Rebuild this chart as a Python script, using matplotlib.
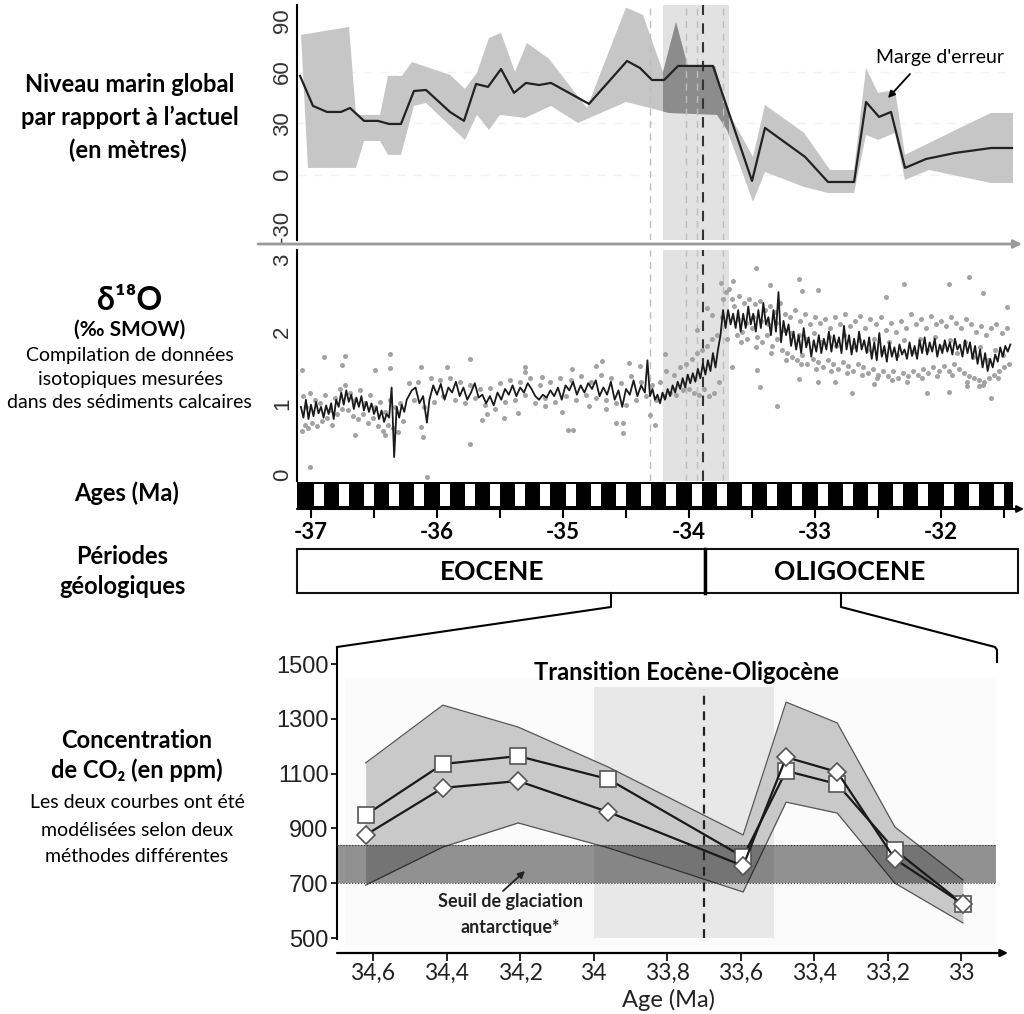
import numpy as np
import matplotlib
matplotlib.use('Agg')
import matplotlib.pyplot as plt
from matplotlib.patches import Rectangle
from matplotlib import font_manager

# ---------------- data ----------------
# sea level (m) vs age (Ma)
sl_age = [-37.087, -36.984, -36.873, -36.762, -36.690, -36.579, -36.468, -36.381, -36.286, -36.183,
          -36.087, -35.897, -35.786, -35.690, -35.595, -35.492, -35.389, -35.294, -35.190, -35.095,
          -34.794, -34.492, -34.389, -34.294, -34.198, -34.087, -33.810, -33.500, -33.397, -33.079,
          -32.897, -32.690, -32.595, -32.492, -32.397, -32.286, -32.119, -31.889, -31.603, -31.437]
sl_val = [57.7, 40.2, 36.7, 36.7, 39.0, 31.5, 31.5, 29.7, 29.7, 48.9,
          49.5, 36.7, 31.5, 53.0, 51.3, 61.7, 47.8, 53.6, 52.4, 53.6,
          41.4, 66.4, 62.3, 55.3, 55.3, 63.5, 63.5, -3.5, 27.4, 10.5,
          -4.1, -4.1, 42.5, 33.8, 36.7, 4.1, 9.3, 12.8, 15.7, 15.7]

sl_up_age = [-37.079, -36.698, -36.643, -36.452, -36.389, -36.278, -36.198, -35.897, -35.778, -35.683,
             -35.587, -35.492, -35.381, -35.286, -35.111, -34.810, -34.500, -34.365, -34.206, -34.103,
             -34.008, -33.794, -33.698, -33.492, -33.397, -33.087, -32.881, -32.690, -32.595, -32.500,
             -32.365, -32.286, -31.833, -31.603, -31.429]
sl_up_val = [81.6, 86.2, 35.0, 35.0, 57.7, 57.7, 65.8, 58.3, 50.1, 59.4,
             79.8, 82.7, 60.0, 76.9, 67.6, 39.0, 97.5, 93.2, 60.0, 89.1,
             62.9, 63.5, 37.9, 10.5, 40.8, 24.5, 2.9, 2.9, 62.3, 47.8,
             49.5, 11.7, 28.0, 36.1, 36.1]
sl_lo_age = [-37.024, -36.643, -36.579, -36.452, -36.389, -36.286, -36.183, -36.087, -35.778, -35.683,
             -35.587, -35.500, -35.302, -35.095, -34.881, -34.500, -34.310, -34.159, -33.778, -33.698,
             -33.492, -33.397, -33.087, -32.897, -32.690, -32.595, -32.500, -32.365, -32.286, -32.095,
             -31.603, -31.429]
sl_lo_val = [4.1, 4.1, 19.8, 19.8, 11.7, 11.7, 40.2, 41.9, 20.4, 35.0,
             26.2, 35.0, 33.2, 40.2, 30.3, 42.5, 39.0, 36.1, 35.0, 26.2,
             -15.7, 1.7, -7.0, -10.5, -10.5, 23.3, 20.4, 24.5, -2.9, 2.9,
             -4.7, -4.7]
sl_ticks = [-30, 0, 30, 60, 90]

# delta 18O smoothed record
d18o_age = [-37.08, -37.06, -37.04, -37.02, -37.00, -36.98, -36.96, -36.94, -36.92, -36.90,
            -36.88, -36.86, -36.84, -36.82, -36.80, -36.78, -36.76, -36.74, -36.72, -36.70,
            -36.68, -36.66, -36.64, -36.62, -36.60, -36.58, -36.56, -36.54, -36.52, -36.50,
            -36.48, -36.46, -36.44, -36.42, -36.40, -36.38, -36.36, -36.34, -36.32, -36.30,
            -36.28, -36.26, -36.24, -36.20, -36.17, -36.14, -36.11, -36.08, -36.06, -36.03,
            -36.00, -35.97, -35.94, -35.91, -35.88, -35.85, -35.82, -35.79, -35.76, -35.73,
            -35.70, -35.67, -35.64, -35.61, -35.58, -35.55, -35.52, -35.49, -35.46, -35.43,
            -35.40, -35.37, -35.34, -35.31, -35.28, -35.25, -35.22, -35.19, -35.16, -35.13,
            -35.10, -35.07, -35.04, -35.01, -34.98, -34.95, -34.92, -34.89, -34.86, -34.83,
            -34.80, -34.77, -34.74, -34.71, -34.68, -34.65, -34.62, -34.59, -34.56, -34.53,
            -34.50, -34.47, -34.44, -34.41, -34.38, -34.35, -34.33, -34.31, -34.29, -34.27,
            -34.25, -34.23, -34.21, -34.19, -34.17, -34.15, -34.13, -34.11, -34.09, -34.07,
            -34.05, -34.03, -34.01, -33.99, -33.97, -33.95, -33.93, -33.91, -33.89, -33.87,
            -33.85, -33.83, -33.81, -33.79, -33.77, -33.75, -33.73, -33.71, -33.69, -33.67,
            -33.65, -33.63, -33.61, -33.59, -33.57, -33.55, -33.53, -33.51, -33.49, -33.47,
            -33.45, -33.43, -33.41, -33.39, -33.37, -33.35, -33.33, -33.31, -33.29, -33.27,
            -33.25, -33.23, -33.21, -33.19, -33.17, -33.15, -33.13, -33.11, -33.09, -33.07,
            -33.05, -33.03, -33.01, -32.99, -32.97, -32.95, -32.93, -32.91, -32.89, -32.87,
            -32.85, -32.83, -32.81, -32.79, -32.77, -32.75, -32.73, -32.71, -32.69, -32.67,
            -32.65, -32.63, -32.61, -32.59, -32.57, -32.55, -32.53, -32.51, -32.49, -32.47,
            -32.45, -32.43, -32.41, -32.39, -32.37, -32.35, -32.33, -32.31, -32.29, -32.27,
            -32.25, -32.23, -32.21, -32.19, -32.17, -32.15, -32.13, -32.11, -32.09, -32.07,
            -32.05, -32.03, -32.01, -31.99, -31.97, -31.95, -31.93, -31.91, -31.89, -31.87,
            -31.85, -31.83, -31.81, -31.79, -31.77, -31.75, -31.73, -31.71, -31.69, -31.67,
            -31.65, -31.63, -31.61, -31.59, -31.57, -31.55, -31.53, -31.51, -31.49, -31.47,
            -31.45]
d18o_val = [0.95, 0.80, 1.05, 0.78, 0.98, 0.82, 1.02, 0.86, 0.95, 0.80,
            0.97, 0.85, 1.00, 0.78, 1.05, 0.95, 1.15, 0.98, 1.18, 1.02,
            1.12, 0.92, 1.08, 0.95, 1.10, 0.90, 1.02, 0.88, 1.00, 0.85,
            0.95, 0.78, 0.90, 0.74, 0.85, 0.80, 1.22, 0.25, 0.95, 0.80,
            0.98, 0.88, 1.05, 1.18, 1.22, 1.00, 1.10, 0.73, 1.05, 1.25,
            1.12, 1.27, 1.05, 1.22, 1.15, 1.30, 1.10, 1.22, 1.05, 1.15,
            1.28, 1.08, 1.12, 1.00, 1.10, 0.97, 1.15, 1.05, 1.20, 1.12,
            1.25, 1.10, 1.22, 1.15, 1.28, 1.20, 1.10, 1.05, 1.12, 1.08,
            1.18, 1.10, 1.22, 1.05, 1.25, 1.18, 1.30, 1.12, 1.25, 1.15,
            1.28, 1.20, 1.32, 1.10, 1.22, 1.12, 1.30, 1.05, 1.18, 0.95,
            1.20, 1.12, 1.32, 1.10, 1.25, 1.15, 1.60, 1.10, 1.20, 1.05,
            1.12, 1.00, 1.15, 1.05, 1.20, 1.10, 1.25, 1.15, 1.30, 1.20,
            1.35, 1.22, 1.40, 1.28, 1.42, 1.30, 1.48, 1.35, 1.55, 1.40,
            1.60, 1.45, 1.70, 1.50, 1.75, 1.95, 2.30, 2.05, 2.30, 2.10,
            2.25, 2.05, 2.30, 2.00, 2.25, 2.05, 2.35, 2.10, 2.25, 2.00,
            2.30, 2.05, 2.40, 2.10, 2.20, 1.95, 2.30, 2.00, 2.55, 1.85,
            2.15, 1.95, 2.10, 1.80, 2.00, 1.75, 1.95, 1.70, 2.05, 1.78,
            1.92, 1.65, 1.88, 1.72, 1.95, 1.70, 1.90, 1.75, 2.00, 1.72,
            1.95, 1.78, 1.92, 1.70, 2.08, 1.75, 1.95, 1.68, 1.90, 1.72,
            2.00, 1.75, 1.88, 1.70, 1.92, 1.62, 1.85, 1.60, 1.98, 1.65,
            1.80, 1.58, 1.85, 1.65, 1.78, 1.60, 1.82, 1.68, 1.75, 1.62,
            1.85, 1.66, 1.80, 1.62, 1.88, 1.70, 1.92, 1.68, 1.85, 1.72,
            1.90, 1.65, 1.82, 1.70, 1.88, 1.72, 1.85, 1.68, 1.90, 1.75,
            1.82, 1.65, 1.88, 1.70, 1.85, 1.62, 1.80, 1.55, 1.75, 1.50,
            1.70, 1.45, 1.62, 1.50, 1.68, 1.58, 1.78, 1.65, 1.80, 1.72,
            1.82]

# delta 18O individual measurements
sc_age = [-37.07, -37.06, -37.05, -37.04, -37.02, -37.01, -36.99, -36.97, -36.95, -36.93,
          -36.91, -36.89, -36.87, -36.85, -36.83, -36.81, -36.79, -36.77, -36.75, -36.73,
          -36.71, -36.69, -36.67, -36.65, -36.63, -36.61, -36.59, -36.57, -36.55, -36.53,
          -36.51, -36.49, -36.47, -36.45, -36.43, -36.41, -36.39, -36.37, -36.35, -36.33,
          -36.31, -36.29, -36.27,
          -36.22, -36.18, -36.15, -36.10, -36.05, -36.02, -35.98, -35.95, -35.90, -35.86,
          -35.82, -35.78, -35.74, -35.70, -35.66, -35.62, -35.58, -35.54, -35.50, -35.46,
          -35.42, -35.38, -35.34, -35.30, -35.26, -35.22, -35.18, -35.14, -35.10, -35.06,
          -35.02, -34.98, -34.94, -34.90, -34.86, -34.82, -34.78, -34.74, -34.70, -34.66,
          -34.62, -34.58, -34.54, -34.50, -34.46, -34.42, -34.38, -34.34,
          -34.29, -34.26, -34.23, -34.20, -34.18, -34.15, -34.12, -34.10, -34.07, -34.05,
          -34.02, -34.00, -33.98, -33.96, -33.94, -33.92, -33.90, -33.88, -33.86, -33.84,
          -33.82, -33.80, -33.78, -33.76, -33.74, -33.73, -33.71, -33.70, -33.68, -33.66,
          -33.64, -33.62, -33.60, -33.58, -33.56, -33.54, -33.52, -33.50, -33.48, -33.46,
          -33.44, -33.42, -33.40, -33.38, -33.36, -33.34, -33.32, -33.30, -33.28, -33.26,
          -33.24, -33.22, -33.20, -33.18, -33.16, -33.14, -33.12, -33.10, -33.08, -33.06,
          -33.04, -33.02, -33.00, -32.98, -32.96, -32.94, -32.92, -32.90, -32.88, -32.86,
          -32.84, -32.82, -32.80, -32.78, -32.76, -32.74, -32.72, -32.70, -32.68, -32.66,
          -32.64, -32.62, -32.60, -32.58, -32.56, -32.54, -32.52, -32.50, -32.48, -32.46,
          -32.44, -32.42, -32.40, -32.38, -32.36, -32.34, -32.32, -32.30, -32.28, -32.26,
          -32.24, -32.22, -32.20, -32.18, -32.16, -32.14, -32.12, -32.10, -32.08, -32.06,
          -32.04, -32.02, -32.00, -31.98, -31.96, -31.94, -31.92, -31.90, -31.88, -31.86,
          -31.84, -31.82, -31.80, -31.78, -31.76, -31.74, -31.72, -31.70, -31.68, -31.66,
          -31.64, -31.62, -31.60, -31.58, -31.56, -31.54, -31.52, -31.50, -31.48, -31.46,
          -33.61, -33.55, -33.49, -33.43, -33.37, -33.31, -33.25, -33.19, -33.13, -33.07,
          -33.01, -32.95, -32.89, -32.83, -32.77, -32.71, -32.65, -32.59, -32.53, -32.47,
          -32.41, -32.35, -32.29, -32.23, -32.17, -32.11, -32.05, -31.99, -31.93, -31.87,
          -31.81, -31.75, -31.69, -31.63, -31.57, -31.51,
          -33.59, -33.47, -33.35, -33.23, -33.11, -32.99, -32.87, -32.75, -32.63, -32.51,
          -32.39, -32.27, -32.15, -32.03, -31.91, -31.79, -31.67, -31.55,
          -36.90, -36.73, -37.07, -36.75, -36.37, -36.49, -36.37, -36.13, -35.92, -35.74,
          -35.30, -35.30, -35.17, -36.65, -36.41, -36.11, -36.13, -35.74, -35.64, -35.60,
          -35.47, -35.36, -37.01, -36.08, -34.93, -34.69, -34.74, -34.48, -34.39, -34.96,
          -34.92, -35.14, -35.01, -34.79, -34.66, -34.58, -34.52, -34.52, -34.31, -34.27,
          -34.19, -33.94, -33.86, -33.82, -33.75, -33.65, -33.47, -33.36, -33.66, -33.44,
          -33.30, -33.46, -33.13, -32.98, -33.10, -32.29, -31.94, -31.78, -31.67, -32.44,
          -32.71, -32.84, -33.13, -32.98, -32.53, -32.11, -31.94, -31.60, -31.70, -31.48,
          -31.79]
sc_val = [0.62, 1.10, 0.70, 0.95, 0.65, 1.15, 0.72, 1.05, 0.68, 1.00,
          0.75, 1.12, 0.80, 0.90, 0.70, 1.08, 0.85, 1.20, 0.92, 1.25,
          0.90, 1.15, 0.82, 1.05, 0.78, 1.18, 0.85, 1.00, 0.72, 1.12,
          0.80, 0.95, 0.68, 1.02, 0.62, 0.88, 0.70, 1.05, 0.65, 0.95,
          0.60, 1.00, 0.75,
          1.28, 1.05, 1.30, 0.95, 1.35, 1.02, 1.32, 1.10, 1.35, 1.05,
          1.30, 1.00, 1.25, 1.08, 1.20, 0.98, 1.22, 0.92, 1.28, 1.02,
          1.32, 1.05, 1.30, 1.12, 1.35, 1.00, 1.25, 1.08, 1.30, 1.02,
          1.35, 1.10, 1.32, 1.05, 1.38, 1.12, 1.30, 1.08, 1.40, 1.05,
          1.35, 1.00, 1.28, 0.98, 1.38, 1.05, 1.30, 1.10,
          1.25, 1.05, 1.30, 1.10, 1.45, 1.15, 1.40, 1.12, 1.50, 1.18,
          1.55, 1.20, 1.62, 1.15, 1.70, 1.12, 1.75, 1.20, 1.80, 1.10,
          1.90, 1.15, 1.95, 1.30, 2.20, 2.45, 2.55, 1.90, 2.60, 2.45,
          2.35, 1.95, 2.50, 2.00, 2.40, 1.90, 2.45, 2.05, 2.38, 1.92,
          2.42, 1.85, 2.30, 1.95, 2.35, 1.80, 2.28, 1.90, 2.40, 1.75,
          2.25, 1.70, 2.20, 1.65, 2.30, 1.60, 2.15, 1.68, 2.25, 1.55,
          2.10, 1.62, 2.20, 1.58, 2.12, 1.50, 2.18, 1.60, 2.05, 1.55,
          2.20, 1.48, 2.10, 1.58, 2.25, 1.52, 2.08, 1.45, 2.15, 1.55,
          2.22, 1.50, 2.05, 1.42, 2.18, 1.48, 2.10, 1.40, 2.20, 1.45,
          2.02, 1.38, 2.12, 1.45, 2.00, 1.35, 2.15, 1.42, 2.05, 1.38,
          2.25, 1.45, 2.10, 1.40, 2.18, 1.48, 2.05, 1.42, 2.22, 1.50,
          2.10, 1.45, 2.15, 1.52, 2.08, 1.45, 2.20, 1.55, 2.12, 1.48,
          2.05, 1.42, 2.18, 1.38, 2.10, 1.35, 2.00, 1.32, 2.08, 1.30,
          1.95, 1.35, 2.05, 1.40, 2.10, 1.45, 1.98, 1.50, 2.05, 1.55,
          2.18, 2.12, 2.20, 2.15, 2.10, 2.12, 2.02, 1.98, 1.95, 1.90,
          1.98, 1.85, 1.92, 1.80, 1.95, 1.78, 1.88, 1.75, 1.90, 1.72,
          1.85, 1.68, 1.88, 1.72, 1.90, 1.75, 1.92, 1.78, 1.88, 1.70,
          1.85, 1.65, 1.78, 1.60, 1.75, 1.68,
          1.85, 1.78, 1.70, 1.60, 1.55, 1.48, 1.45, 1.42, 1.40, 1.35,
          1.32, 1.30, 1.35, 1.38, 1.40, 1.30, 1.25, 1.35,
          1.65, 1.66, 1.46, 1.53, 1.69, 1.46, 1.49, 1.51, 1.51, 1.62,
          1.51, 1.44, 1.37, 0.56, 0.56, 0.53, 0.67, 0.43, 0.77, 0.85,
          0.79, 0.86, 0.11, -0.03, 1.48, 1.59, 1.52, 1.56, 1.52, 0.63,
          0.63, 0.96, 0.88, 0.96, 0.92, 0.73, 0.72, 0.58, 0.84, 0.70,
          1.69, 2.02, 2.33, 2.23, 2.68, 2.71, 2.88, 2.65, 1.51, 1.23,
          0.96, 1.46, 2.73, 2.58, 2.57, 2.66, 2.66, 2.76, 2.54, 2.48,
          1.14, 1.30, 1.34, 1.30, 1.27, 1.14, 1.16, 1.07, 1.24, 2.34,
          1.24]
d18o_ticks = [0, 1, 2, 3]

# transition markers (Ma)
eot_span = (-34.21, -33.68)
eot_main = -33.89
eot_light = [-34.31, -34.02, -33.94, -33.73]

# magnetostratigraphy stripes (Ma)
bar_start, bar_end = -37.11, -31.43
stripe_starts = np.arange(-36.98, -31.5, 0.2)
stripe_width = 0.08
age_major = [-37, -36, -35, -34, -33, -32]
age_minor = [-36.5, -35.5, -34.5, -33.5, -32.5, -31.5]

# CO2 (ppm) vs age (Ma)
co2_age = [34.62, 34.41, 34.205, 33.96, 33.593, 33.476, 33.337, 33.18, 32.995]
co2_sq = [949, 1135, 1164, 1080, 796, 1110, 1062, 821, 624]
co2_di = [876, 1048, 1073, 960, 763, 1160, 1106, 788, 624]
co2_hi = [1139, 1350, 1270, 1124, 876, 1361, 1285, 905, 712]
co2_lo = [693, 832, 920, 829, 668, 996, 956, 700, 555]
co2_ticks = [500, 700, 900, 1100, 1300, 1500]
age_ticks = [34.6, 34.4, 34.2, 34.0, 33.8, 33.6, 33.4, 33.2, 33.0]
age_labels = ['34,6', '34,4', '34,2', '34', '33,8', '33,6', '33,4', '33,2', '33']
glac_lo, glac_hi = 700, 840
trans_x0, trans_x1, trans_top = 34.0, 33.51, 1416
trans_line = 33.7

# ---------------- figure ----------------
W, H = 1024, 1014
fig = plt.figure(figsize=(W / 100, H / 100), dpi=100)

names = {f.name for f in font_manager.fontManager.ttflist}
LATO = ['Lato', 'DejaVu Sans']
NARROW = 'Liberation Sans Narrow' if 'Liberation Sans Narrow' in names else 'Liberation Sans'


def px_axes(l, t, r, b):
    return fig.add_axes([l / W, 1 - b / H, (r - l) / W, (b - t) / H])


XL = (-37.111, -31.413)

# --- sea level panel
ax1 = px_axes(297, 5, 1015, 240)
ax1.set_xlim(XL)
ax1.set_ylim(-37.9, 99.0)
for s in ['top', 'right', 'bottom']:
    ax1.spines[s].set_visible(False)
ax1.spines['left'].set_linewidth(1.5)
ax1.set_xticks([])
ax1.set_yticks(sl_ticks)
ax1.set_yticklabels([str(t) for t in sl_ticks], rotation=90, va='center',
                    fontsize=16, color='#333333', family='Liberation Sans')
ax1.tick_params(axis='y', length=0, pad=3)
for v in [0, 30, 60]:
    ax1.axhline(v, color='#f2f2f2', lw=1, ls=(0, (6, 6)), zorder=0)
ax1.axvspan(*eot_span, color='#e2e2e2', lw=0, zorder=0.5)
poly_x = np.r_[sl_up_age, sl_lo_age[::-1]]
poly_y = np.r_[sl_up_val, sl_lo_val[::-1]]
ax1.fill(poly_x, poly_y, color='#c6c6c6', lw=0, zorder=1)
dark = ax1.fill(poly_x, poly_y, color='#8c8c8c', lw=0, zorder=1.2)[0]
dark.set_clip_path(Rectangle((eot_span[0], -50), eot_span[1] - eot_span[0], 200,
                             transform=ax1.transData))
for x in eot_light:
    ax1.axvline(x, color='#bdbdbd', lw=1, ls=(0, (5, 4)), zorder=1.5)
ax1.axvline(eot_main, color='#333333', lw=1.5, ls=(0, (5, 4)), zorder=1.6)
ax1.plot(sl_age, sl_val, color='#222222', lw=1.6, zorder=3)

# --- d18O panel
ax2 = px_axes(297, 250, 1015, 481)
ax2.set_xlim(XL)
ax2.set_ylim(-0.084, 3.138)
for s in ['top', 'right', 'bottom']:
    ax2.spines[s].set_visible(False)
ax2.spines['left'].set_linewidth(1.5)
ax2.set_xticks([])
ax2.set_yticks(d18o_ticks)
ax2.set_yticklabels([str(t) for t in d18o_ticks], rotation=90, va='center',
                    fontsize=16, color='#333333', family='Liberation Sans')
ax2.tick_params(axis='y', length=0, pad=3)
ax2.axvspan(*eot_span, color='#e2e2e2', lw=0, zorder=0.5)
for x in eot_light:
    ax2.axvline(x, color='#bdbdbd', lw=1, ls=(0, (5, 4)), zorder=1.5)
ax2.axvline(eot_main, color='#333333', lw=1.5, ls=(0, (5, 4)), zorder=1.6)
ax2.scatter(sc_age, sc_val, s=13, color='#a3a3a3', lw=0, zorder=2)
ax2.plot(d18o_age, d18o_val, color='#1a1a1a', lw=1.3, zorder=3)

# --- stripe bar + age axis
ax3 = px_axes(297, 482, 1015, 508)
ax3.set_xlim(XL)
ax3.set_ylim(0, 1)
ax3.add_patch(Rectangle((bar_start, 0), bar_end - bar_start, 1, color='black', lw=0))
ax3.bar(stripe_starts, 0.86, width=stripe_width, bottom=0.07, align='edge',
        color='white', lw=0)
for s in ['top', 'right', 'left', 'bottom']:
    ax3.spines[s].set_visible(False)
ax3.set_yticks([])
ax3.set_xticks(age_major)
ax3.set_xticklabels([str(a) for a in age_major], fontsize=16, fontweight='bold',
                    family=LATO)
ax3.set_xticks(age_minor, minor=True)
ax3.tick_params(axis='x', which='both', direction='out', length=7, width=1.5,
                pad=3)

# --- CO2 panel
ax4 = px_axes(337, 648, 1003, 953)
ax4.set_xlim(34.698, 32.886)
ax4.set_ylim(445.3, 1558.5)
for s in ['top', 'right', 'bottom']:
    ax4.spines[s].set_visible(False)
ax4.spines['left'].set_linewidth(1.5)
ax4.spines['left'].set_bounds(495, 1558)
ax4.patch.set_alpha(0)
ax4.add_patch(Rectangle((34.676, 474), -1.768, 975, color='#fbfbfb', lw=0, zorder=0))
ax4.add_patch(Rectangle((trans_x0, 500), trans_x1 - trans_x0, trans_top - 500,
                        color='#e8e8e8', lw=0, zorder=1))
ax4.fill_between(co2_age, co2_lo, co2_hi, color='#c9c9c9', lw=0, zorder=2)
ax4.plot(co2_age, co2_hi, color='#555555', lw=0.9, zorder=2.5)
ax4.plot(co2_age, co2_lo, color='#555555', lw=0.9, zorder=2.5)
ax4.fill_between([34.698, 32.905], glac_lo, glac_hi, color='black', alpha=0.42,
                 lw=0, zorder=3)
ax4.hlines([glac_lo, glac_hi], 34.698, 32.905, colors='#333333', lw=0.8,
           linestyles=':', zorder=3.1)
ax4.vlines(trans_line, 500, 1410, colors='#222222', lw=1.6,
           linestyles=(0, (4, 3)), zorder=3.5)
ax4.plot(co2_age, co2_sq, color='#1a1a1a', lw=1.6, marker='s', ms=11,
         mfc='white', mec='#555555', mew=1.2, zorder=5)
ax4.plot(co2_age, co2_di, color='#1a1a1a', lw=1.6, marker='D', ms=9,
         mfc='white', mec='#555555', mew=1.2, zorder=6)
ax4.set_yticks(co2_ticks)
ax4.set_yticklabels([str(t) for t in co2_ticks], fontsize=17, color='#222222',
                    family=NARROW)
ax4.tick_params(axis='y', length=4, width=1.2, pad=2)
ax4.set_xticks(age_ticks)
ax4.set_xticklabels(age_labels, fontsize=16.5, color='#222222', family=LATO)
ax4.tick_params(axis='x', length=6, width=1.2, pad=1)

# --- overlay (texts, arrows, brackets) in pixel coordinates
ov = fig.add_axes([0, 0, 1, 1])
ov.set_xlim(0, W)
ov.set_ylim(H, 0)
ov.axis('off')
ov.patch.set_alpha(0)

arrow_kw = dict(shrinkA=0, shrinkB=0)
ov.annotate('', xy=(1022, 244), xytext=(258, 244),
            arrowprops=dict(arrowstyle='-|>', color='#9a9a9a', lw=2, mutation_scale=12, **arrow_kw))
ov.annotate('', xy=(1024, 509), xytext=(297, 509),
            arrowprops=dict(arrowstyle='-|>', color='black', lw=1.5, mutation_scale=10, **arrow_kw))
ov.annotate('', xy=(1008, 953), xytext=(337, 953),
            arrowprops=dict(arrowstyle='-|>', color='black', lw=1.6, mutation_scale=11, **arrow_kw))
ov.annotate('', xy=(888, 98), xytext=(910, 74),
            arrowprops=dict(arrowstyle='-|>', color='black', lw=1.3, mutation_scale=10, **arrow_kw))
ov.annotate('', xy=(525, 871), xytext=(503, 891),
            arrowprops=dict(arrowstyle='-|>', color='#222222', lw=1.3, mutation_scale=10, **arrow_kw))

# periods box
ov.add_patch(Rectangle((297, 549), 408, 44, fill=False, ec='#111111', lw=1.5))
ov.add_patch(Rectangle((705, 549), 313, 44, fill=False, ec='#111111', lw=1.5))
ov.plot([705, 705], [549, 593], color='black', lw=2.5)
ov.text(492, 572, 'EOCENE', ha='center', va='center', fontsize=19, fontweight='bold', family=LATO)
ov.text(850, 572, 'OLIGOCENE', ha='center', va='center', fontsize=19, fontweight='bold', family=LATO)
ov.plot([611, 611, 337], [593, 607, 647], color='black', lw=1.5)
ov.plot([841, 841, 995, 997, 997], [593, 607, 647, 650, 662], color='black', lw=1.5)

# panel texts
ov.text(940, 57, "Marge d'erreur", ha='center', va='center', fontsize=14, family=LATO)
ov.text(686, 672, 'Transition Eocène-Oligocène', ha='center', va='center',
        fontsize=17, fontweight='bold', family=LATO)
ov.text(510, 902, 'Seuil de glaciation', ha='center', va='center', fontsize=13,
        fontweight='bold', family=LATO, color='#222222')
ov.text(510, 928, 'antarctique*', ha='center', va='center', fontsize=13,
        fontweight='bold', family=LATO, color='#222222')
ov.text(668, 1000, 'Age (Ma)', ha='center', va='center', fontsize=17, family=LATO, color='#222222')

# left labels
bold = dict(ha='center', va='center', fontweight='bold', family=LATO, color='black')
reg = dict(ha='center', va='center', family=LATO, color='black')
ov.text(130, 85, 'Niveau marin global', fontsize=17, **bold)
ov.text(130, 117, 'par rapport à l’actuel', fontsize=17, **bold)
ov.text(128, 150, '(en mètres)', fontsize=17, **bold)
ov.text(130, 300, 'δ¹⁸O', fontsize=23, **bold)
ov.text(130, 330, '(‰ SMOW)', fontsize=15, **bold)
ov.text(130, 355, 'Compilation de données', fontsize=14, **reg)
ov.text(130, 379, 'isotopiques mesurées', fontsize=14, **reg)
ov.text(129, 403, 'dans des sédiments calcaires', fontsize=14, **reg)
ov.text(127, 493, 'Ages (Ma)', fontsize=17, **bold)
ov.text(122, 557, 'Périodes', fontsize=17, **bold)
ov.text(123, 586, 'géologiques', fontsize=17, **bold)
ov.text(137, 740, 'Concentration', fontsize=17, **bold)
ov.text(137, 770, 'de CO₂ (en ppm)', fontsize=17, **bold)
ov.text(137, 802, 'Les deux courbes ont été', fontsize=14, **reg)
ov.text(137, 830, 'modélisées selon deux', fontsize=14, **reg)
ov.text(137, 857, 'méthodes différentes', fontsize=14, **reg)

fig.savefig('out.png', dpi=100)
